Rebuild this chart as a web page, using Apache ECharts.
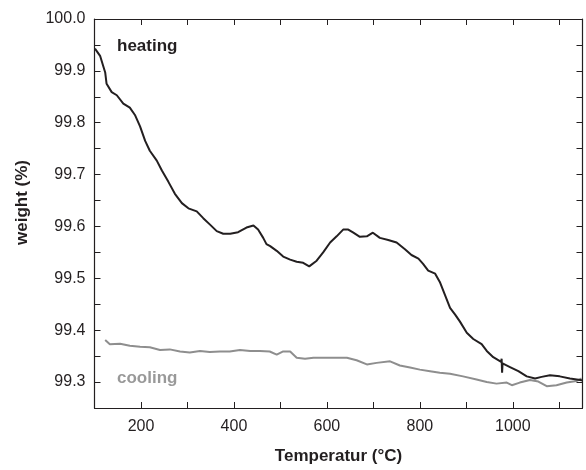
<!DOCTYPE html>
<html><head><meta charset="utf-8">
<script src="https://cdn.jsdelivr.net/npm/echarts@6/dist/echarts.min.js"></script>
<style>html,body{margin:0;padding:0;background:#fff}#c{width:586px;height:470px}</style>
</head><body><div id="c"></div>
<script>
// Heating curve: temperature (°C) and weight (%)
const heatingT = [101,112,123,126,137,148,162,176,187,198,209,219,234,245,259,273,288,302,320,334,348,363,377,392,409,427,442,452,463,470,478,492,506,521,535,549,562,578,592,607,621,635,646,657,671,686,699,714,732,750,768,782,797,807,818,833,843,854,865,876,886,901,915,933,944,958,975,976,977,978,994,1012,1030,1048,1062,1080,1101,1123,1145,1150];
const heatingW = [99.943,99.929,99.897,99.875,99.859,99.853,99.837,99.829,99.815,99.793,99.765,99.746,99.727,99.708,99.686,99.663,99.645,99.635,99.629,99.616,99.604,99.591,99.586,99.586,99.589,99.598,99.602,99.594,99.578,99.566,99.562,99.553,99.542,99.536,99.532,99.530,99.523,99.534,99.550,99.569,99.581,99.594,99.594,99.588,99.580,99.581,99.588,99.578,99.574,99.569,99.556,99.545,99.538,99.528,99.515,99.509,99.493,99.468,99.443,99.430,99.417,99.395,99.383,99.373,99.360,99.348,99.339,99.345,99.318,99.336,99.329,99.321,99.311,99.307,99.310,99.313,99.311,99.307,99.304,99.303];
// Cooling curve
const coolingT = [123,133,155,176,198,219,241,262,284,305,327,348,370,391,413,435,456,477,492,506,521,535,553,571,592,621,643,664,686,707,736,757,779,800,822,843,865,893,922,944,965,987,998,1015,1037,1055,1073,1094,1116,1137,1148];
const coolingW = [99.381,99.373,99.374,99.370,99.368,99.367,99.362,99.363,99.359,99.357,99.360,99.358,99.359,99.359,99.362,99.360,99.360,99.359,99.353,99.359,99.359,99.347,99.345,99.347,99.347,99.347,99.347,99.342,99.334,99.337,99.340,99.332,99.328,99.324,99.321,99.318,99.316,99.311,99.305,99.300,99.297,99.299,99.294,99.299,99.304,99.301,99.292,99.294,99.299,99.302,99.307];
const xTicks = [200,400,600,800,1000];
const yTicks = [99.3,99.4,99.5,99.6,99.7,99.8,99.9,100.0];

const ink = '#231f20';
const font = 'Liberation Sans, Arial, sans-serif';
const chart = echarts.init(document.getElementById('c'), null, {renderer:'canvas'});
const xBase = {type:'value', min:100, max:1150, interval:100, axisLine:{lineStyle:{color:ink,width:1.2}}, splitLine:{show:false}, axisTick:{inside:true,length:6,lineStyle:{color:ink}}};
const yBase = {type:'value', min:99.25, max:100, interval:0.05, axisLine:{lineStyle:{color:ink,width:1.2}}, splitLine:{show:false}, axisTick:{inside:true,length:6,lineStyle:{color:ink}}};
chart.setOption({
  animation:false,
  backgroundColor:'#fff',
  grid:{left:94.5,right:3.5,top:19,bottom:55},
  xAxis:[
    Object.assign({}, xBase, {position:'bottom', name:'Temperatur (°C)', nameLocation:'middle', nameGap:40,
      nameTextStyle:{fontFamily:font,fontSize:17,fontWeight:'bold',color:ink},
      axisLabel:{fontFamily:font,fontSize:16,color:ink,margin:11,
        formatter:v=>xTicks.indexOf(Math.round(v))>=0?String(Math.round(v)):''}}),
    Object.assign({}, xBase, {position:'top', axisLabel:{show:false}})
  ],
  yAxis:[
    Object.assign({}, yBase, {position:'left', name:'weight (%)', nameLocation:'middle', nameGap:64,
      nameTextStyle:{fontFamily:font,fontSize:17,fontWeight:'bold',color:ink,padding:[0,0,0,22]},
      axisLabel:{fontFamily:font,fontSize:16,color:ink,margin:9,
        formatter:v=>{const r=Math.round(v*10)/10; return (Math.abs(v-r)<1e-6 && yTicks.some(t=>Math.abs(t-r)<1e-6))? r.toFixed(1):'';}}}),
    Object.assign({}, yBase, {position:'right', axisLabel:{show:false}})
  ],
  series:[
    {type:'line', name:'cooling', data:coolingT.map((t,i)=>[t,coolingW[i]]), showSymbol:false, lineStyle:{color:'#8e8e8e',width:2}, itemStyle:{color:'#8e8e8e'}},
    {type:'line', name:'heating', data:heatingT.map((t,i)=>[t,heatingW[i]]), showSymbol:false, lineStyle:{color:ink,width:2}, itemStyle:{color:ink}}
  ],
  graphic:[
    {type:'text', left:117, top:38, style:{text:'heating', font:'bold 17px '+font, fill:ink}},
    {type:'text', left:117, top:370, style:{text:'cooling', font:'bold 17px '+font, fill:'#999999'}}
  ]
});
</script></body></html>
